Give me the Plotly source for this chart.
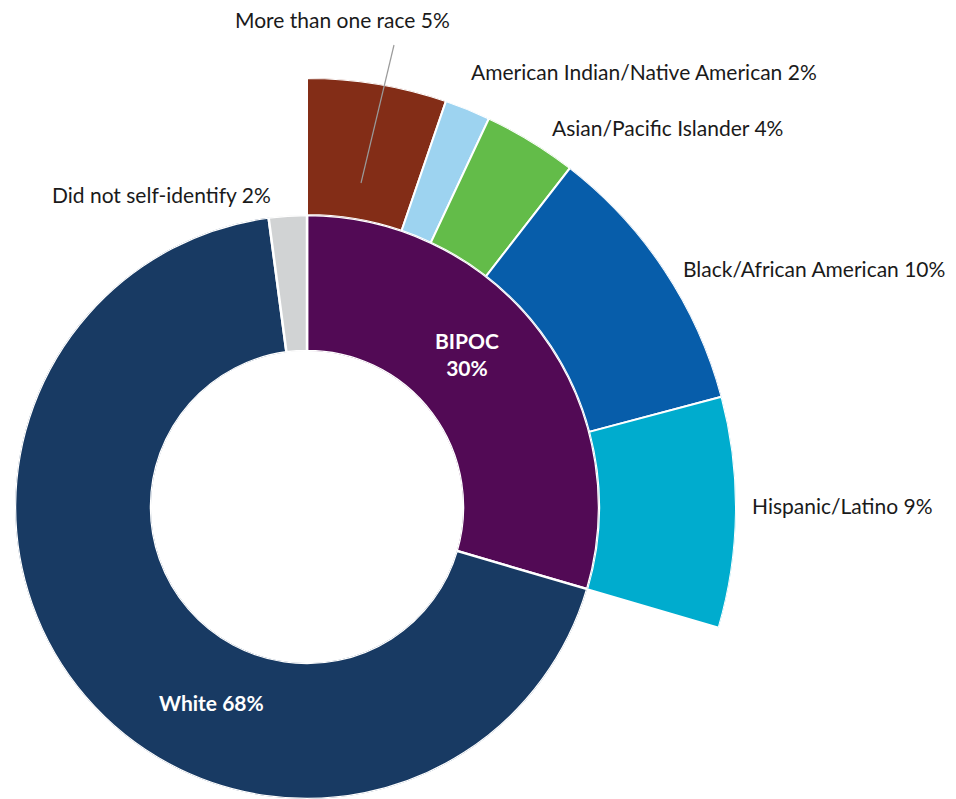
import numpy as np
import plotly.graph_objects as go

# ---------------- data ----------------
inner_labels = ["BIPOC", "White", "Did not self-identify"]
inner_values = [29.54, 68.36, 2.10]
inner_text = ["30%", "68%", "2%"]
inner_colors = ["#520A55", "#183A63", "#D1D3D4"]

outer_labels = ["More than one race", "American Indian/Native American",
                "Asian/Pacific Islander", "Black/African American", "Hispanic/Latino"]
outer_values = [5.25, 1.72, 3.53, 10.36, 8.68]
outer_text = ["5%", "2%", "4%", "10%", "9%"]
outer_colors = ["#832D17", "#9DD3F0", "#63BC49", "#075DAA", "#00ACCE"]

# ---------------- geometry (layout) ----------------
W, H = 956, 799
CX, CY = 307, 507          # centre in px (from top-left)
R_HOLE, R_IN, R_OUT = 156, 292, 429
FONT = "Lato"
FS = 21


def angles(vals):
    v = np.asarray(vals, dtype=float)
    start = np.cumsum(v) - v
    return (start + v / 2) * 3.6, v * 3.6


th_in, w_in = angles(inner_values)
th_out, w_out = angles(outer_values)

fig = go.Figure()
fig.add_trace(go.Barpolar(
    r=[1] * len(inner_values), theta=th_in, width=w_in, base=0,
    marker=dict(color=inner_colors, line=dict(color="white", width=2.5)),
    subplot="polar", hoverinfo="text",
    hovertext=[f"{l} {t}" for l, t in zip(inner_labels, inner_text)],
))
fig.add_trace(go.Barpolar(
    r=[1] * len(outer_values), theta=th_out, width=w_out, base=0,
    marker=dict(color=outer_colors, line=dict(color="white", width=2)),
    subplot="polar2", hoverinfo="text",
    hovertext=[f"{l} {t}" for l, t in zip(outer_labels, outer_text)],
))

# inner polar: full circle
dx1 = [(CX - R_IN) / W, (CX + R_IN) / W]
dy1 = [(H - CY - R_IN) / H, (H - CY + R_IN) / H]
dy1 = [max(0.0, dy1[0]), min(1.0, dy1[1])]

# outer polar: only sector actually used
end_deg = 90 - sum(outer_values) * 3.6
sec0 = end_deg - 4
sec = [sec0, 90]
ymin = np.sin(np.radians(sec0))
dx2 = [CX / W, (CX + R_OUT) / W]
dy2 = [(H - CY + ymin * R_OUT) / H, (H - CY + R_OUT) / H]

axis_off = dict(visible=False, showgrid=False, showline=False, showticklabels=False, ticks="")
fig.update_layout(
    width=W, height=H, margin=dict(l=0, r=0, t=0, b=0),
    paper_bgcolor="white", plot_bgcolor="white", showlegend=False,
    polar=dict(
        domain=dict(x=dx1, y=dy1), hole=R_HOLE / R_IN, bgcolor="rgba(0,0,0,0)",
        radialaxis=dict(range=[0, 1], **axis_off),
        angularaxis=dict(rotation=90, direction="clockwise", **axis_off),
    ),
    polar2=dict(
        domain=dict(x=dx2, y=dy2), hole=R_IN / R_OUT, sector=sec, bgcolor="rgba(0,0,0,0)",
        radialaxis=dict(range=[0, 1], **axis_off),
        angularaxis=dict(rotation=90, direction="clockwise", **axis_off),
    ),
    font=dict(family=FONT, color="#1a1a1a", size=FS),
)


def px(x, y):
    return x / W, 1 - y / H


label_pos = {
    "More than one race": (342, 19, "center"),
    "American Indian/Native American": (469, 72, "left"),
    "Asian/Pacific Islander": (550, 127, "left"),
    "Black/African American": (681, 268, "left"),
    "Hispanic/Latino": (750, 505, "left"),
}
for lab, t in zip(outer_labels, outer_text):
    x, y, anc = label_pos[lab]
    ax_, ay_ = px(x, y)
    fig.add_annotation(x=ax_, y=ay_, xref="paper", yref="paper", text=f"{lab} {t}",
                       showarrow=False, xanchor=anc, yanchor="middle",
                       font=dict(family=FONT, size=FS, color="#1a1a1a"))

x_, y_ = px(161, 195)
fig.add_annotation(x=x_, y=y_, xref="paper", yref="paper",
                   text=f"{inner_labels[2]} {inner_text[2]}", showarrow=False,
                   xanchor="center", yanchor="middle",
                   font=dict(family=FONT, size=FS, color="#1a1a1a"))
x_, y_ = px(467, 354)
fig.add_annotation(x=x_, y=y_, xref="paper", yref="paper",
                   text=f"<b>{inner_labels[0]}</b><br><b>{inner_text[0]}</b>", showarrow=False,
                   xanchor="center", yanchor="middle",
                   font=dict(family=FONT, size=FS, color="white"))
x_, y_ = px(211, 702)
fig.add_annotation(x=x_, y=y_, xref="paper", yref="paper",
                   text=f"<b>{inner_labels[1]} {inner_text[1]}</b>", showarrow=False,
                   xanchor="center", yanchor="middle",
                   font=dict(family=FONT, size=FS, color="white"))

# leader line for "More than one race"
p0 = px(394, 45)
p1 = px(361, 183)
fig.add_shape(type="line", xref="paper", yref="paper", x0=p0[0], y0=p0[1], x1=p1[0], y1=p1[1],
              line=dict(color="#9a9a9a", width=1.2))

fig.write_html("out.html")
